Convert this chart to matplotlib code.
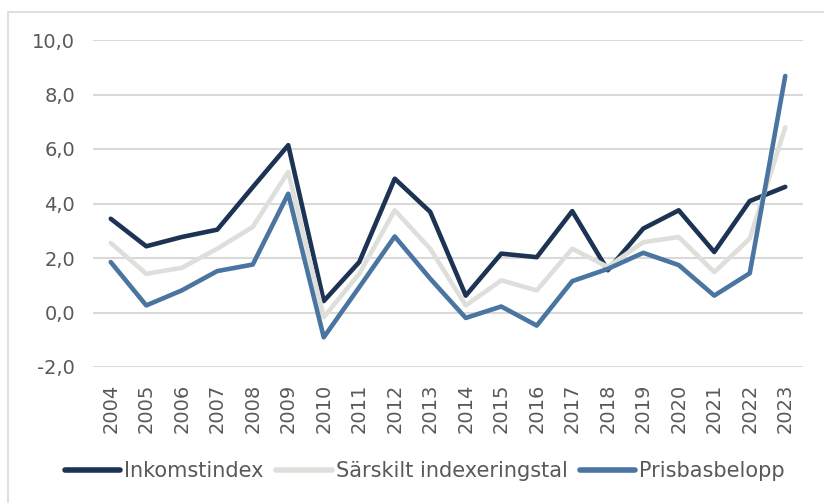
import matplotlib

matplotlib.use("Agg")
import matplotlib.pyplot as plt
from matplotlib.patches import Rectangle
from matplotlib.ticker import FuncFormatter

years = [str(y) for y in range(2004, 2024)]
inkomstindex = [3.44, 2.43, 2.77, 3.04, 4.60, 6.14, 0.42, 1.85, 4.91, 3.69,
                0.62, 2.16, 2.03, 3.72, 1.55, 3.08, 3.75, 2.22, 4.09, 4.61]
sarskilt = [2.55, 1.42, 1.64, 2.34, 3.14, 5.16, -0.17, 1.42, 3.75, 2.34,
            0.26, 1.18, 0.81, 2.34, 1.67, 2.58, 2.77, 1.48, 2.71, 6.79]
prisbasbelopp = [1.85, 0.26, 0.81, 1.52, 1.76, 4.36, -0.91, 0.93, 2.79, 1.24,
                 -0.20, 0.22, -0.48, 1.15, 1.60, 2.19, 1.74, 0.62, 1.44, 8.68]

series = [
    ("Inkomstindex", inkomstindex, "#1d3354"),
    ("Särskilt indexeringstal", sarskilt, "#dededa"),
    ("Prisbasbelopp", prisbasbelopp, "#4a75a0"),
]

W, H = 824, 503
fig = plt.figure(figsize=(W / 100, H / 100), dpi=100)
ax = fig.add_axes([93 / W, 1 - 367 / H, 710 / W, 327 / H])

x = list(range(len(years)))
for label, vals, color in series:
    ax.plot(x, vals, color=color, lw=3.3, label=label,
            solid_capstyle="round", solid_joinstyle="round")

ax.set_xlim(-0.5, len(years) - 0.5)
ax.set_ylim(-2, 10)
ax.set_yticks([-2, 0, 2, 4, 6, 8, 10])
ax.yaxis.set_major_formatter(FuncFormatter(lambda v, _: f"{v:.1f}".replace(".", ",")))
ax.set_xticks(x)
ax.set_xticklabels(years, rotation=90)

ax.grid(axis="y", color="#d9d9d9", lw=1.5)
ax.set_axisbelow(True)
for sp in ax.spines.values():
    sp.set_visible(False)
ax.tick_params(axis="y", length=0, pad=13, labelsize=14, labelcolor="#595959")
ax.tick_params(axis="x", length=0, pad=12, labelsize=14, labelcolor="#595959")

leg = fig.legend(loc="center", bbox_to_anchor=(425 / W, 1 - 471 / H), ncol=3,
                 frameon=False, fontsize=15, handlelength=2.65, handletextpad=0.2,
                 columnspacing=0.6, labelcolor="#595959")
for line in leg.get_lines():
    line.set_linewidth(4)
    line.set_solid_capstyle("round")

# light chart border, cut off at the right and bottom edges
fig.patches.append(Rectangle((8 / W, -0.05), 1.0, 1 - 12 / H + 0.05, transform=fig.transFigure,
                             fill=False, edgecolor="#d9d9d9", lw=1.2))

fig.savefig("out.png", dpi=100)
